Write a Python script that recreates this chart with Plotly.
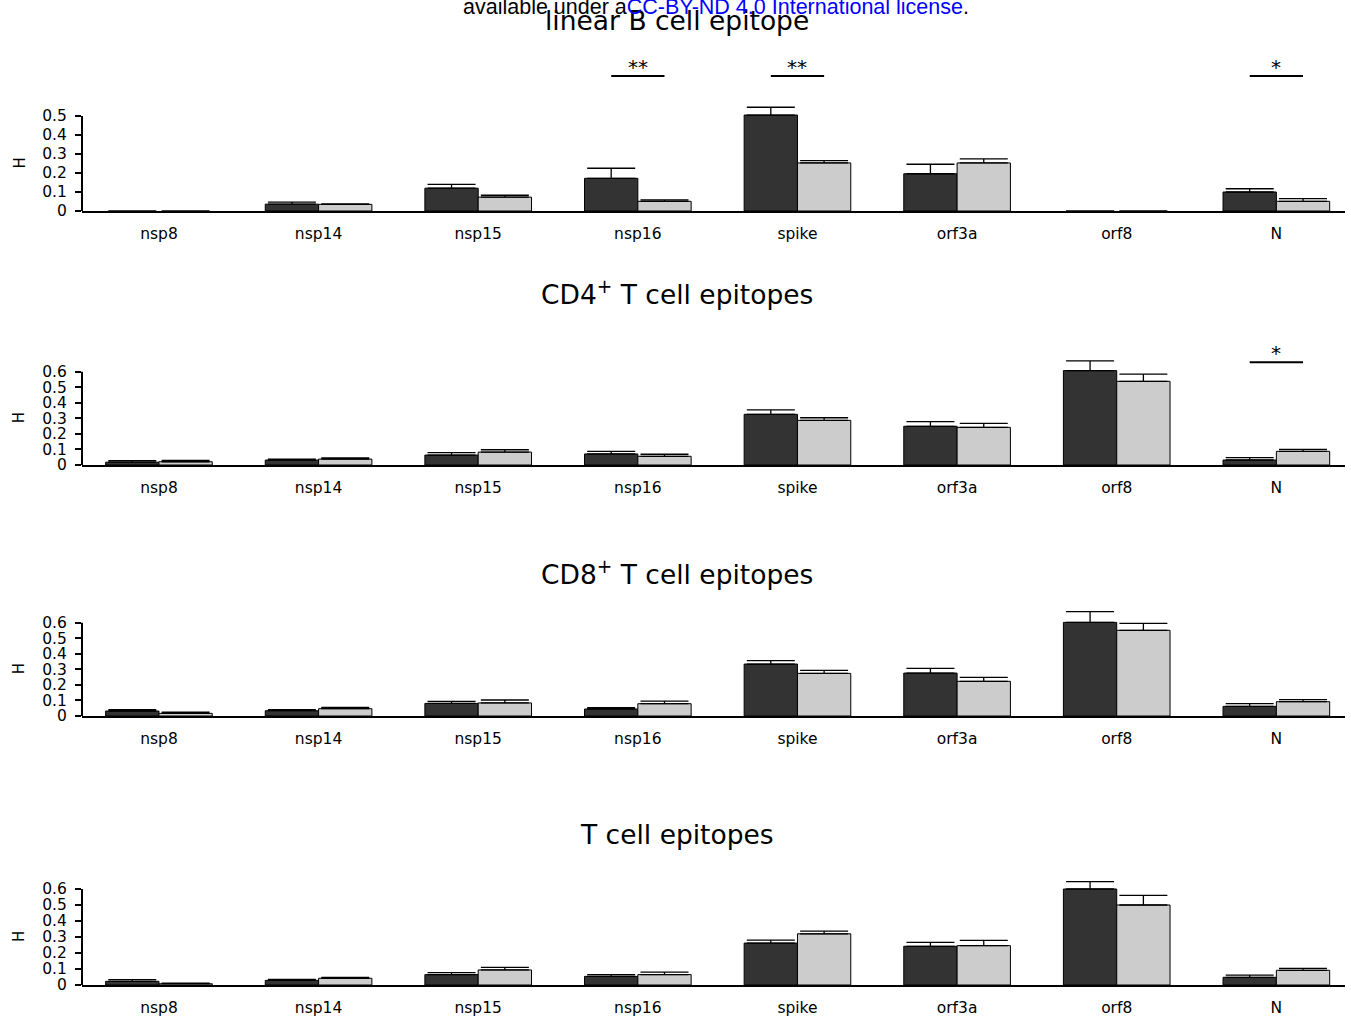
import plotly.graph_objects as go

# ---------------- data ----------------
categories = ["nsp8", "nsp14", "nsp15", "nsp16", "spike", "orf3a", "orf8", "N"]

titles = ["linear B cell epitope", "CD4<sup>+</sup> T cell epitopes",
          "CD8<sup>+</sup> T cell epitopes", "T cell epitopes"]

# linear B cell epitope
b_dark = [0, 0.036, 0.12, 0.172, 0.505, 0.196, 0, 0.10]
b_dark_err = [None, 0.011, 0.02, 0.053, 0.041, 0.05, None, 0.017]
b_light = [0, 0.035, 0.073, 0.051, 0.253, 0.253, 0, 0.051]
b_light_err = [None, 0.003, 0.01, 0.008, 0.012, 0.021, None, 0.014]

# CD4+ T cell epitopes
cd4_dark = [0.018, 0.032, 0.064, 0.071, 0.326, 0.249, 0.607, 0.032]
cd4_dark_err = [0.010, 0.006, 0.015, 0.017, 0.028, 0.030, 0.062, 0.015]
cd4_light = [0.021, 0.038, 0.083, 0.056, 0.287, 0.242, 0.538, 0.088]
cd4_light_err = [0.009, 0.007, 0.015, 0.013, 0.017, 0.026, 0.047, 0.013]

# CD8+ T cell epitopes
cd8_dark = [0.032, 0.034, 0.081, 0.045, 0.334, 0.276, 0.602, 0.062]
cd8_dark_err = [0.009, 0.007, 0.013, 0.009, 0.022, 0.030, 0.069, 0.017]
cd8_light = [0.017, 0.047, 0.084, 0.079, 0.274, 0.223, 0.551, 0.092]
cd8_light_err = [0.007, 0.009, 0.019, 0.017, 0.020, 0.026, 0.045, 0.013]

# T cell epitopes
t_dark = [0.023, 0.029, 0.065, 0.054, 0.262, 0.242, 0.600, 0.048]
t_dark_err = [0.010, 0.006, 0.012, 0.011, 0.019, 0.025, 0.046, 0.014]
t_light = [0.008, 0.042, 0.094, 0.065, 0.320, 0.246, 0.500, 0.092]
t_light_err = [0.004, 0.006, 0.016, 0.016, 0.017, 0.033, 0.060, 0.012]

y_ticks_b = [0, 0.1, 0.2, 0.3, 0.4, 0.5]
y_ticks_t = [0, 0.1, 0.2, 0.3, 0.4, 0.5, 0.6]
y_ticktext_b = ["0", "0.1", "0.2", "0.3", "0.4", "0.5"]
y_ticktext_t = ["0", "0.1", "0.2", "0.3", "0.4", "0.5", "0.6"]

# significance marks: (panel index, category, label, bracket height)
sig_panel = [0, 0, 0, 1]
sig_category = ["nsp16", "spike", "N", "N"]
sig_label = ["**", "**", "*", "*"]
sig_level = [0.71, 0.71, 0.71, 0.66]

# ---------------- layout ----------------
W, H = 1351, 1024
DARK, LIGHT = "#333333", "#cccccc"
FONT = "DejaVu Sans"
BARGAP = 0.332

panels = [
    dict(dark=b_dark, de=b_dark_err, light=b_light, le=b_light_err,
         ticks=y_ticks_b, ticktext=y_ticktext_b, zero=211, unit=190.0, top=40, title_y=20),
    dict(dark=cd4_dark, de=cd4_dark_err, light=cd4_light, le=cd4_light_err,
         ticks=y_ticks_t, ticktext=y_ticktext_t, zero=465, unit=155.5, top=330, title_y=293),
    dict(dark=cd8_dark, de=cd8_dark_err, light=cd8_light, le=cd8_light_err,
         ticks=y_ticks_t, ticktext=y_ticktext_t, zero=716, unit=155.5, top=600, title_y=573),
    dict(dark=t_dark, de=t_dark_err, light=t_light, le=t_light_err,
         ticks=y_ticks_t, ticktext=y_ticktext_t, zero=985, unit=160.0, top=870, title_y=834),
]

x_left_px, x_right_px = 82, 1345
x_range = [-0.482, 7.43]
xpos = list(range(len(categories)))

fig = go.Figure()
layout_axes = {}
annotations = []
shapes = []

def err(arr):
    return dict(type="data", array=arr, arrayminus=[0] * len(arr), symmetric=False,
                color="black", thickness=1.3, width=24)

def outline(vals):
    return dict(color="black", width=[1 if v else 0 for v in vals])

for i, p in enumerate(panels):
    k = "" if i == 0 else str(i + 1)
    xa, ya = "x" + k, "y" + k
    fig.add_trace(go.Bar(x=xpos, y=p["dark"], error_y=err(p["de"]), xaxis=xa, yaxis=ya,
                         marker=dict(color=DARK, line=outline(p["dark"])),
                         offsetgroup="a", name="group 1", showlegend=False))
    fig.add_trace(go.Bar(x=xpos, y=p["light"], error_y=err(p["le"]), xaxis=xa, yaxis=ya,
                         marker=dict(color=LIGHT, line=outline(p["light"])),
                         offsetgroup="b", name="group 2", showlegend=False))
    ymax = (p["zero"] - p["top"]) / p["unit"]
    layout_axes["xaxis" + k] = dict(
        domain=[x_left_px / W, x_right_px / W], range=x_range, anchor=ya, automargin=False,
        tickvals=xpos, ticktext=categories, showline=True, linewidth=2, linecolor="black",
        ticks="", showgrid=False, zeroline=False, ticklabelstandoff=7,
        tickfont=dict(family=FONT, size=15.5, color="black"), fixedrange=True)
    layout_axes["yaxis" + k] = dict(
        domain=[1 - p["zero"] / H, 1 - p["top"] / H], range=[0, ymax], anchor=xa,
        automargin=False,
        tickvals=p["ticks"], ticktext=p["ticktext"], showline=False, showgrid=False,
        zeroline=False, ticks="outside", ticklen=6, tickwidth=1.5, tickcolor="black",
        ticklabelstandoff=5, tickfont=dict(family=FONT, size=15.5, color="black"),
        fixedrange=True)
    # left axis line only up to the top tick
    shapes.append(dict(type="line", xref=xa + " domain", yref=ya, x0=0, x1=0,
                       y0=0, y1=p["ticks"][-1], line=dict(color="black", width=2)))
    # panel title
    annotations.append(dict(text=titles[i], x=677 / W, y=1 - p["title_y"] / H,
                            xref="paper", yref="paper", showarrow=False,
                            xanchor="center", yanchor="middle",
                            font=dict(family=FONT, size=26.5, color="black")))
    # y label
    mid_px = p["zero"] - p["ticks"][-1] * p["unit"] / 2
    annotations.append(dict(text="H", x=19 / W, y=1 - mid_px / H, xref="paper", yref="paper",
                            showarrow=False, textangle=-90, xanchor="center", yanchor="middle",
                            font=dict(family=FONT, size=15, color="black")))

half = (1 - BARGAP) / 4
for pi, cat, lab, lev in zip(sig_panel, sig_category, sig_label, sig_level):
    k = "" if pi == 0 else str(pi + 1)
    c = categories.index(cat)
    shapes.append(dict(type="line", xref="x" + k, yref="y" + k, x0=c - half, x1=c + half,
                       y0=lev, y1=lev, line=dict(color="black", width=2)))
    annotations.append(dict(text=lab, x=c, y=lev, xref="x" + k, yref="y" + k,
                            showarrow=False, xanchor="center", yanchor="bottom", yshift=-5,
                            font=dict(family=FONT, size=20, color="black")))

# header text (preprint watermark)
annotations.append(dict(
    text="available under a<span style='color:#0000ff'>CC-BY-ND 4.0 International license</span>.",
    x=461 / W, y=1 - 7 / H, xref="paper", yref="paper", showarrow=False,
    xanchor="left", yanchor="middle",
    font=dict(family="Liberation Sans", size=21.5, color="black")))

fig.update_layout(
    width=W, height=H, margin=dict(l=0, r=0, t=0, b=0, autoexpand=False),
    paper_bgcolor="white", plot_bgcolor="white",
    barmode="group", bargap=BARGAP, bargroupgap=0, showlegend=False,
    annotations=annotations, shapes=shapes, font=dict(family=FONT), **layout_axes)

page_css = ("var s=document.createElement('style');"
            "s.textContent='html,body{margin:0;padding:0;overflow:hidden;height:1024px;}"
            ".plotly-graph-div{display:block;}';"
            "document.head.appendChild(s);")

fig.write_html("out.html", config={"displayModeBar": False}, post_script=page_css)
